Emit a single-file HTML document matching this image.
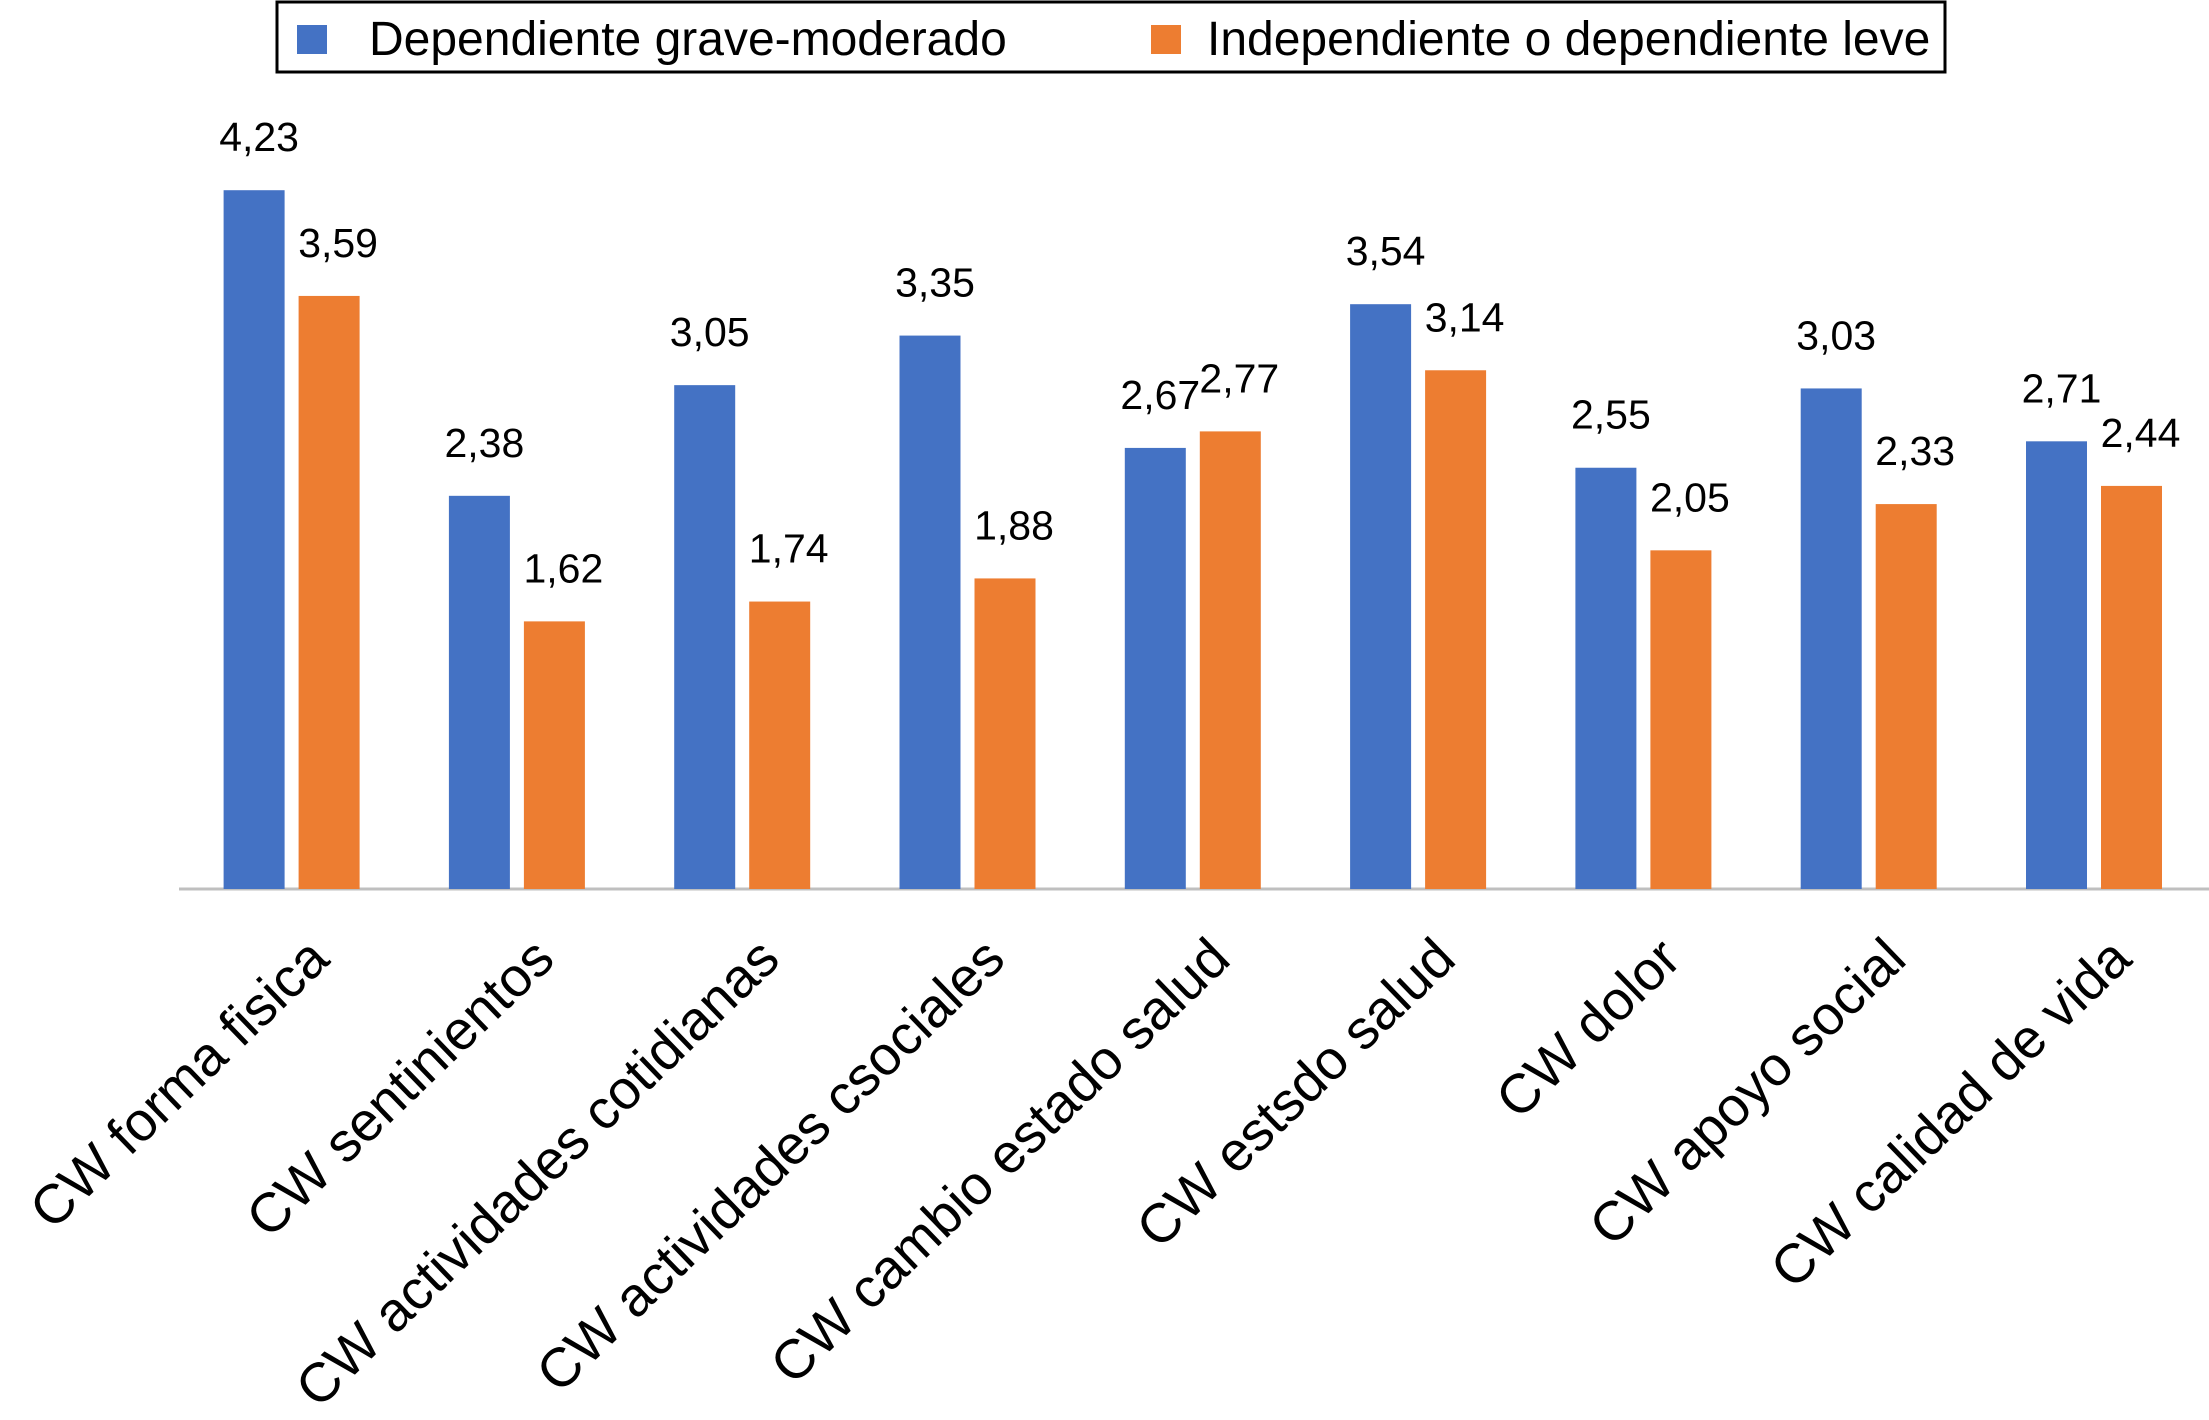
<!DOCTYPE html>
<html><head><meta charset="utf-8"><style>
html,body{margin:0;padding:0;background:#fff;}
svg{display:block;font-family:"Liberation Sans",Arial,sans-serif;}
</style></head><body>
<svg id="chart" width="2209" height="1420" viewBox="0 0 2209 1420">
<g>
<rect x="277" y="2" width="1668" height="70" fill="#fff" stroke="#000" stroke-width="3"/>
<rect x="297" y="25" width="30" height="29" fill="#4472C4"/>
<text x="369" y="55" font-size="48" fill="#000">Dependiente grave-moderado</text>
<rect x="1151" y="25" width="30" height="29" fill="#ED7D31"/>
<text x="1207" y="55" font-size="48" fill="#000">Independiente o dependiente leve</text>
</g>
<line x1="179" y1="889" x2="2209" y2="889" stroke="#BFBFBF" stroke-width="3"/>
<g id="bars"></g>
</svg>
<script>
const categories=["CW forma fisica","CW sentinientos","CW actividades cotidianas","CW actividades csociales","CW cambio estado salud","CW estsdo salud","CW dolor","CW apoyo social","CW calidad de vida"];
const seriesDependiente=[4.23,2.38,3.05,3.35,2.67,3.54,2.55,3.03,2.71];
const seriesIndependiente=[3.59,1.62,1.74,1.88,2.77,3.14,2.05,2.33,2.44];
const valueLabelsDep=["4,23","2,38","3,05","3,35","2,67","3,54","2,55","3,03","2,71"];
const valueLabelsInd=["3,59","1,62","1,74","1,88","2,77","3,14","2,05","2,33","2,44"];

const baseY=889, unit=165.2, firstX=291.6, step=225.3, barW=61;
const yScale=v=>baseY-v*unit;
const xCenter=i=>firstX+i*step;
const g=document.getElementById('bars');
const NS="http://www.w3.org/2000/svg";
function bar(x,v,color,name,label,dx){
  const r=document.createElementNS(NS,'rect');
  r.setAttribute('x',x);r.setAttribute('y',yScale(v));
  r.setAttribute('width',barW);r.setAttribute('height',baseY-yScale(v));
  r.setAttribute('fill',color);
  
  
  g.appendChild(r);
  const t=document.createElementNS(NS,'text');
  t.setAttribute('x',x+barW/2+dx);t.setAttribute('y',yScale(v)-39);
  t.setAttribute('font-size','41');t.setAttribute('text-anchor','middle');
  t.textContent=label;
  
  
  g.appendChild(t);
}
categories.forEach((c,i)=>{
  const cx=xCenter(i);
  bar(cx-68,seriesDependiente[i],'#4472C4','bar-dependiente-'+(i+1),valueLabelsDep[i],5);
  bar(cx+7,seriesIndependiente[i],'#ED7D31','bar-independiente-'+(i+1),valueLabelsInd[i],9);
  const t=document.createElementNS(NS,'text');
  const ax=cx+40, ay=962;
  t.setAttribute('x',ax);t.setAttribute('y',ay);
  t.setAttribute('font-size','55');t.setAttribute('text-anchor','end');
  t.setAttribute('transform','rotate(-44 '+ax+' '+ay+')');
  t.textContent=c;
  
  
  g.appendChild(t);
});
</script>
</body></html>
